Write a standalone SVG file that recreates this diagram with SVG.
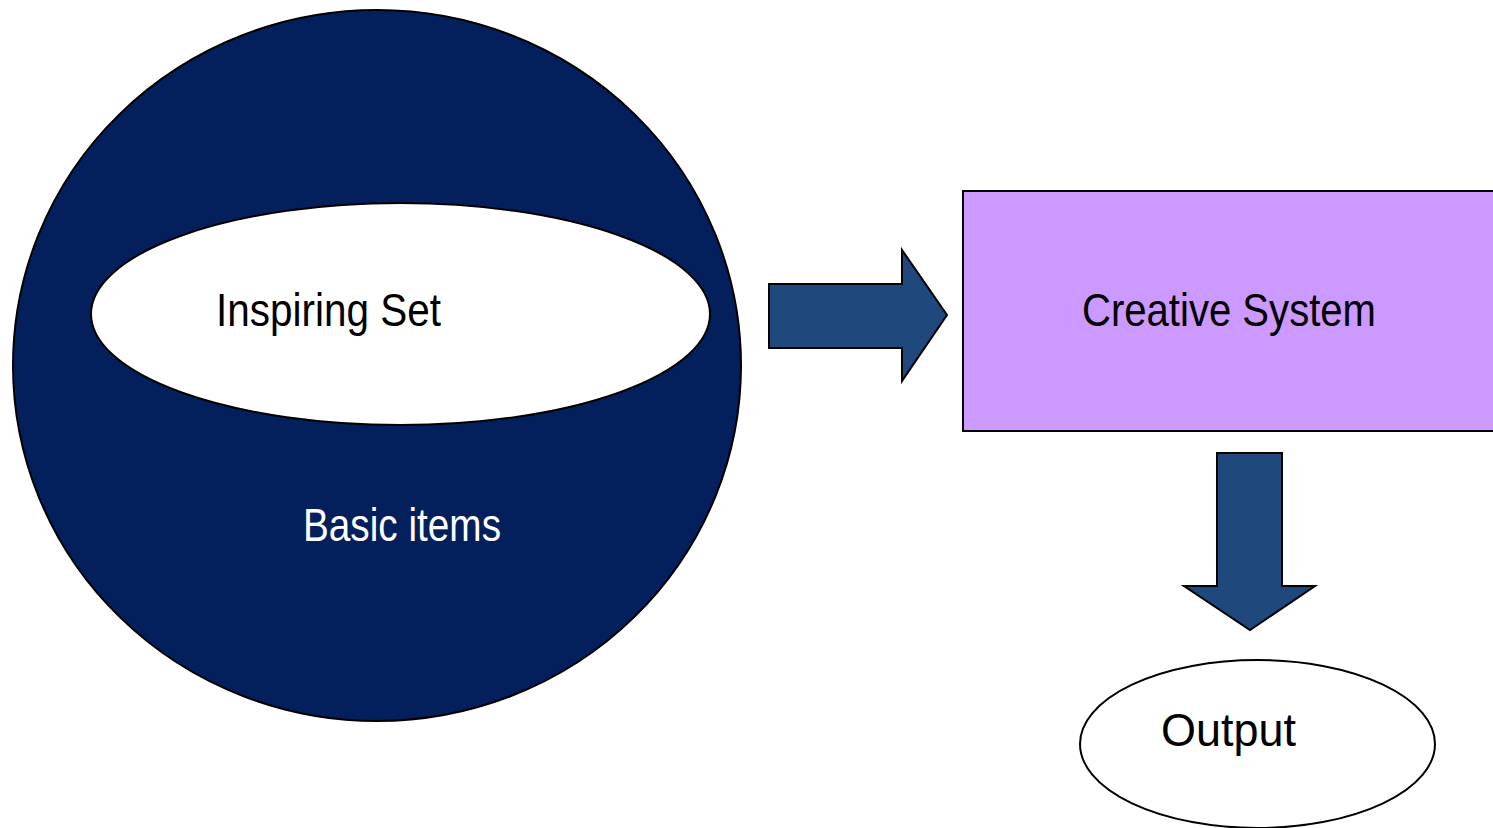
<svg xmlns="http://www.w3.org/2000/svg" width="1493" height="828" viewBox="0 0 1493 828">
  <style>
    .lbl { font-family: "Liberation Sans", Arial, sans-serif; font-size: 46px; }
    .dark { fill: #03205C; stroke: #000; stroke-width: 2; }
    .white { fill: #fff; stroke: #000; stroke-width: 2; }
    .arrow { fill: #1F497D; stroke: #000; stroke-width: 2; }
  </style>
  <rect width="1493" height="828" fill="#fff"/>

  <g id="basic-items">
    <ellipse class="dark" cx="377" cy="365.5" rx="364" ry="355.5"/>
    <text class="lbl" x="303" y="541" fill="#fff" textLength="198" lengthAdjust="spacingAndGlyphs">Basic items</text>
  </g>

  <g id="inspiring-set">
    <ellipse class="white" cx="400.5" cy="314" rx="309.5" ry="111"/>
    <text class="lbl" x="216" y="326" fill="#000" textLength="225" lengthAdjust="spacingAndGlyphs">Inspiring Set</text>
  </g>

  <g id="creative-system">
    <rect x="963" y="191" width="540" height="240" fill="#CC99FF" stroke="#000" stroke-width="2"/>
    <text class="lbl" x="1082" y="326" fill="#000" textLength="294" lengthAdjust="spacingAndGlyphs">Creative System</text>
  </g>

  <g id="output">
    <ellipse class="white" cx="1257.5" cy="744" rx="177.5" ry="84"/>
    <text class="lbl" x="1161" y="746" fill="#000" textLength="135" lengthAdjust="spacingAndGlyphs">Output</text>
  </g>

  <g id="connectors">
    <polygon class="arrow" points="769,284 902,284 902,250 947,315 902,381 902,348 769,348"/>
    <polygon class="arrow" points="1217,453 1282,453 1282,586 1315,586 1250,630 1184,586 1217,586"/>
  </g>
</svg>
